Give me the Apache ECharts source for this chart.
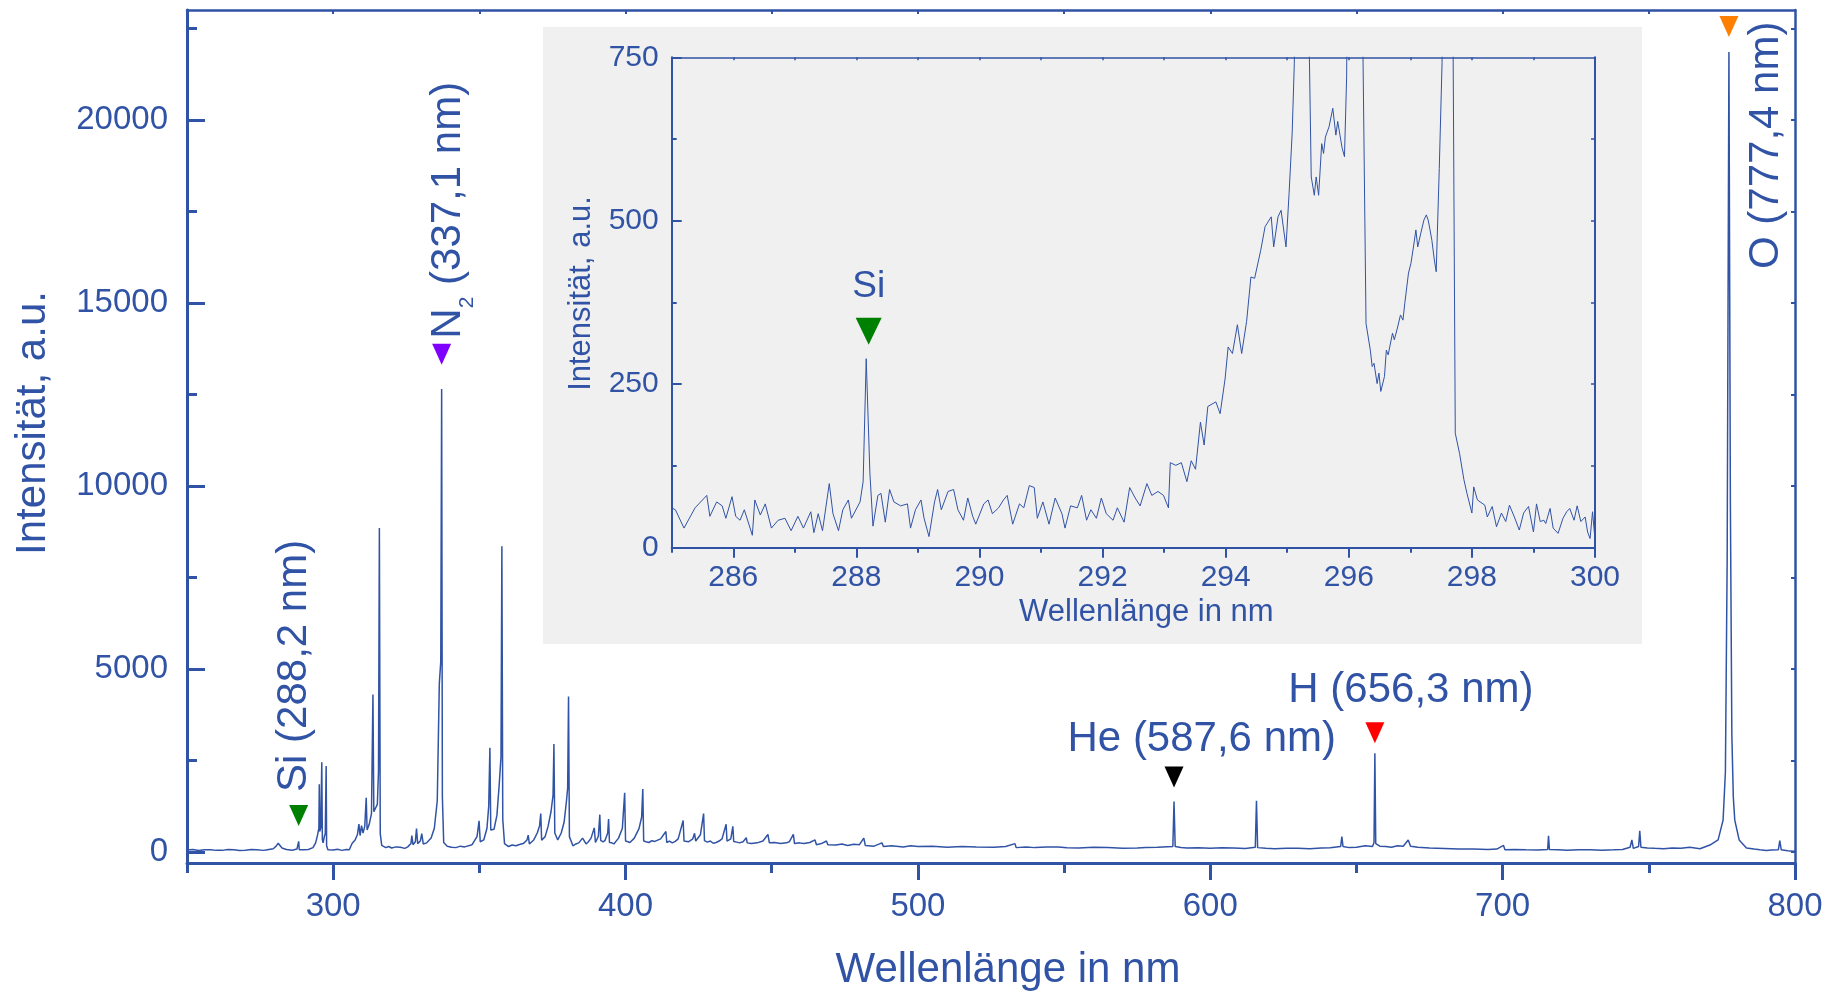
<!DOCTYPE html>
<html>
<head>
<meta charset="utf-8">
<script src="https://cdn.jsdelivr.net/npm/echarts@6/dist/echarts.min.js"></script>
<style>
  html, body { margin: 0; padding: 0; background: #ffffff; }
  #chart { width: 1835px; height: 995px; }
</style>
</head>
<body>
<div id="chart"></div>
<script>
// Emission spectrum, overview 250–800 nm: [wavelength in nm, intensity in a.u.]
const overviewSpectrum = [
  [250,55],[252,70],[254,40],[256,60],[258,65],[260,45],[262,45],[264,70],[266,60],[268,40],[270,50],[272,70],[274,65],[276,45],[277,55],[279.5,90],[280.5,160],[281.2,240],[281.8,180],[282.5,110],[284,70],[286,50],[287.6,80],[288.0,60],[288.2,290],[288.4,60],[290,60],[291.5,70],[293.1,120],[294.0,250],[294.7,480],[295.1,650],[295.25,1850],[295.4,560],[295.75,660],[295.95,700],[296.1,2450],[296.3,330],[296.55,250],[297.0,430],[297.3,500],[297.6,2350],[297.75,170],[298.2,60],[300,55],[301.5,75],[303,45],[304.5,70],[305.5,60],[306.5,240],[307.5,330],[308.3,480],[308.8,760],[309.2,450],[309.7,720],[310.2,520],[310.8,700],[311.3,1480],[311.6,600],[312.3,750],[313.1,1050],[313.6,4300],[313.9,1100],[314.5,1050],[315.1,1300],[315.5,2200],[315.8,8850],[316.1,500],[316.6,180],[318,120],[319,150],[320,110],[321.5,140],[323,130],[324.5,100],[325.5,140],[326.6,230],[326.9,450],[327.3,200],[328.1,280],[328.5,640],[328.9,230],[329.8,300],[330.3,500],[330.8,220],[332,250],[333.5,380],[334.6,650],[335.6,1400],[336.3,4600],[336.8,5200],[337.1,12650],[337.35,1500],[337.8,260],[339,160],[340.5,130],[342,120],[343.5,160],[345,140],[347.5,200],[349.2,420],[349.9,850],[350.3,280],[351.5,330],[352.6,650],[353.2,1250],[353.6,2850],[353.9,600],[355.0,620],[356.0,1000],[356.8,1850],[357.4,2600],[357.7,8350],[358.0,900],[358.6,230],[360,150],[361.2,190],[362.5,170],[364,210],[365,230],[366.3,330],[366.7,460],[367.1,220],[368.6,330],[369.8,520],[370.6,720],[371.0,1050],[371.3,320],[372.5,420],[373.5,700],[374.5,1100],[375.2,1550],[375.5,2950],[375.8,520],[376.8,330],[378.0,520],[379.0,820],[379.8,1400],[380.2,1750],[380.5,4250],[380.8,420],[382,170],[383,220],[384,250],[385.3,380],[386.5,220],[387.3,280],[388.2,380],[389.3,660],[389.7,260],[390.7,430],[391.2,1020],[391.5,320],[392.3,280],[393.0,320],[393.9,520],[394.2,900],[394.5,260],[395.3,250],[396,220],[397.6,380],[398.9,640],[399.7,1620],[400.0,300],[400.8,280],[401.5,260],[403.0,380],[404.6,640],[405.5,950],[405.9,1720],[406.2,300],[407,280],[408,260],[409,310],[410,290],[412,360],[413.8,560],[414.1,260],[415,300],[416,250],[417,290],[418,360],[419.7,860],[420.0,300],[421.5,280],[423.0,360],[423.6,510],[424.0,300],[425.6,470],[426.7,1050],[427.0,310],[428,270],[429,300],[430,240],[431,260],[432,300],[433,360],[434.4,760],[434.7,300],[436.0,360],[436.7,700],[437.0,290],[438,270],[439,250],[440.2,280],[441.3,390],[441.6,250],[443,230],[445,250],[447,300],[448.7,480],[449.2,250],[451,260],[453,230],[455,250],[456,280],[457.4,480],[457.8,230],[459.5,250],[461,230],[463,260],[464.8,330],[465.3,200],[467,230],[468.7,300],[469.2,200],[472,190],[474,220],[476,180],[478,210],[480,200],[481.5,380],[482,180],[485,160],[487.7,250],[488.2,150],[491,170],[495,140],[497.5,170],[500,150],[505,160],[510,130],[515,150],[520,140],[526,130],[530,150],[533.2,230],[533.6,120],[537,140],[540,120],[544,135],[548,140],[551,115],[555,110],[560,130],[565,120],[570,105],[575,110],[578,125],[582,130],[587.2,150],[587.6,1380],[588.0,150],[590,125],[592,110],[596,115],[600,100],[604,115],[608,110],[612,95],[615.4,130],[615.8,1400],[616.2,120],[619,100],[622,90],[626,105],[630,100],[634,90],[638,110],[641,115],[644.6,150],[645.0,420],[645.4,150],[647.5,120],[650,130],[653,170],[655.5,150],[656.0,260],[656.3,2700],[656.6,230],[658,160],[660,150],[662,130],[664,170],[666,160],[667.7,330],[668.5,160],[671,130],[675,110],[680,95],[685,80],[690,85],[695,70],[698,80],[700.3,180],[700.8,60],[704,70],[708,60],[712,55],[715.4,70],[715.7,440],[716.0,70],[719,60],[722,50],[726,65],[730,60],[734,50],[738,60],[741,70],[743.6,130],[744.2,330],[744.7,100],[746.5,150],[746.9,580],[747.3,130],[749.5,110],[752,100],[755,90],[758,110],[761,100],[764,130],[767.5,90],[770.9,190],[773.7,330],[775.4,870],[776.2,2200],[776.8,8000],[777.4,21850],[777.9,9500],[778.4,3200],[778.9,1500],[779.4,870],[780.9,330],[783.4,110],[786,80],[788,60],[790.2,40],[792,55],[794.3,60],[794.8,310],[795.3,60],[797.5,35],[799.4,20],[800,30]
];

// Same spectrum at full resolution, 285–300 nm
const detailSpectrum = [
  [285.00,61],[285.06,58],[285.20,30],[285.38,61],[285.44,67],[285.57,80],[285.62,48],[285.73,70],[285.82,64],[285.88,45],[285.98,78],[286.04,48],[286.11,42],[286.18,58],[286.31,19],[286.35,73],[286.44,50],[286.52,67],[286.62,30],[286.73,42],[286.84,45],[286.94,26],[287.05,48],[287.14,30],[287.26,55],[287.31,23],[287.38,52],[287.45,26],[287.56,98],[287.62,52],[287.71,26],[287.78,58],[287.87,73],[287.92,45],[288.06,70],[288.11,101],[288.16,289],[288.19,292],[288.22,114],[288.27,33],[288.35,80],[288.40,83],[288.47,39],[288.54,89],[288.61,70],[288.72,64],[288.83,67],[288.88,30],[288.96,58],[289.05,73],[289.10,45],[289.18,17],[289.27,70],[289.32,89],[289.38,58],[289.49,86],[289.58,89],[289.65,58],[289.74,42],[289.81,76],[289.89,48],[289.94,36],[290.07,67],[290.14,73],[290.21,52],[290.31,61],[290.39,73],[290.45,80],[290.54,36],[290.65,67],[290.72,61],[290.81,95],[290.89,92],[290.94,45],[291.03,70],[291.13,36],[291.23,76],[291.34,52],[291.39,30],[291.48,64],[291.59,61],[291.66,80],[291.74,42],[291.81,58],[291.90,45],[291.98,76],[292.06,52],[292.17,42],[292.24,61],[292.35,39],[292.44,92],[292.53,76],[292.61,64],[292.72,98],[292.80,80],[292.90,86],[292.99,80],[293.07,61],[293.10,130],[293.19,126],[293.28,130],[293.37,101],[293.44,133],[293.51,120],[293.59,192],[293.65,157],[293.71,216],[293.84,223],[293.91,205],[293.99,258],[294.04,307],[294.11,297],[294.19,341],[294.26,297],[294.34,346],[294.41,414],[294.47,412],[294.57,455],[294.64,491],[294.74,506],[294.78,460],[294.85,506],[294.90,516],[294.98,460],[295.03,542],[295.08,634],[295.115,740],[295.24,1850],[295.355,780],[295.39,567],[295.44,539],[295.47,567],[295.51,539],[295.56,618],[295.59,603],[295.62,628],[295.68,644],[295.74,672],[295.79,631],[295.82,652],[295.89,612],[295.93,598],[295.965,720],[296.10,2450],[296.23,760],[296.28,343],[296.35,302],[296.38,277],[296.41,282],[296.46,251],[296.49,267],[296.52,239],[296.58,262],[296.61,302],[296.64,295],[296.71,328],[296.74,318],[296.79,336],[296.84,356],[296.88,348],[296.91,374],[296.97,420],[297.01,435],[297.06,466],[297.09,486],[297.12,460],[297.17,481],[297.22,501],[297.26,509],[297.29,501],[297.32,486],[297.35,470],[297.39,440],[297.42,422],[297.47,580],[297.515,740],[297.60,2350],[297.695,760],[297.73,175],[297.80,144],[297.87,104],[297.92,83],[298.00,53],[298.03,93],[298.09,73],[298.21,65],[298.25,47],[298.33,63],[298.40,32],[298.48,53],[298.55,40],[298.61,65],[298.69,47],[298.77,27],[298.84,53],[298.92,63],[299.00,24],[299.05,67],[299.11,40],[299.17,42],[299.20,37],[299.27,60],[299.32,30],[299.40,22],[299.48,45],[299.54,55],[299.59,60],[299.66,42],[299.71,64],[299.77,40],[299.84,47],[299.88,24],[299.92,14],[299.96,55],[300.00,12]
];

// Identified emission lines and the height of their markers
const lineNames = ['Si', 'N2', 'He', 'H', 'O'];
const lineWavelengths = [288.2, 337.1, 587.6, 656.3, 777.4];
const markerLevels = [1000, 13600, 2050, 3260, 22550];

// Si line marked in the detail view
const detailLineName = 'Si';
const detailLineWavelength = 288.2;
const detailMarkerLevel = 331;

// Tick labels
const overviewXTicks = [300, 400, 500, 600, 700, 800];
const overviewYTicks = [0, 5000, 10000, 15000, 20000];
const detailXTicks = [286, 288, 290, 292, 294, 296, 298, 300];
const detailYTicks = [0, 250, 500, 750];

const BLUE = '#3153a5';
const FONT = '"Liberation Sans", Arial, Helvetica, sans-serif';

const markerColors = { Si: '#008000', N2: '#8000ff', He: '#000000', H: '#ff0000', O: '#ff8000' };
// label anchor relative to the marker's box, text rotation
const labelLayout = {
  Si: { position: [5, -13], rotate: 90 },
  N2: { position: [16, -5], rotate: 90 },
  He: { position: [-97, -27], rotate: 0 },
  H:  { position: [-77, -32], rotate: 0 },
  O:  { position: [47, 253], rotate: 90 }
};

function steps(from, to, step) {
  const out = [];
  for (let v = from; v <= to + 1e-9; v += step) out.push(Math.round(v * 1000) / 1000);
  return out;
}

function lineLabel(name, nm) {
  const where = ' (' + nm.toFixed(1).replace('.', ',') + ' nm)';
  const m = name.match(/^([A-Za-z]+)(\d*)$/);
  if (m[2]) return '{el|' + m[1] + '}{sub|' + m[2] + '}{el|' + where + '}';
  return '{el|' + name + where + '}';
}

const plainNumber = function (v) { return String(v); };
const textBase = { color: BLUE, fontFamily: FONT, opacity: 1 };

function plainAxis(extra) {
  return Object.assign({
    type: 'value',
    splitLine: { show: false },
    axisLine: { show: false, onZero: false },
    axisTick: { show: false },
    axisLabel: { show: false },
    silent: true
  }, extra);
}

const xAxes = [
  // overview, bottom
  plainAxis({
    gridIndex: 0, min: 250, max: 800, position: 'bottom',
    axisLine: { show: true, onZero: false, lineStyle: { color: BLUE, width: 3 } },
    axisTick: { show: true, inside: false, length: 17, customValues: overviewXTicks, lineStyle: { color: BLUE, width: 3 } },
    axisLabel: Object.assign({ show: true, customValues: overviewXTicks, formatter: plainNumber, margin: 27, fontSize: 33 }, textBase),
    name: 'Wellenlänge in nm', nameLocation: 'middle', nameGap: 86,
    nameTextStyle: Object.assign({ fontSize: 42, padding: [0, 0, 0, 34] }, textBase)
  }),
  plainAxis({
    gridIndex: 0, min: 250, max: 800, position: 'bottom',
    axisTick: { show: true, inside: false, length: 10, customValues: steps(250, 750, 100), lineStyle: { color: BLUE, width: 3 } }
  }),
  plainAxis({
    gridIndex: 0, min: 250, max: 800, position: 'top',
    axisLine: { show: true, onZero: false, lineStyle: { color: BLUE, width: 2.5 } },
    axisTick: { show: true, inside: true, length: 4, customValues: steps(300, 750, 50), lineStyle: { color: BLUE, width: 2 } }
  }),
  // detail view, bottom
  plainAxis({
    gridIndex: 1, min: 285, max: 300, position: 'bottom', z: 3,
    axisLine: { show: true, onZero: false, lineStyle: { color: BLUE, width: 2 } },
    axisTick: { show: true, inside: false, length: 10, customValues: detailXTicks, lineStyle: { color: BLUE, width: 2 } },
    axisLabel: Object.assign({ show: true, customValues: detailXTicks, formatter: plainNumber, margin: 15, fontSize: 30 }, textBase),
    name: 'Wellenlänge in nm', nameLocation: 'middle', nameGap: 49,
    nameTextStyle: Object.assign({ fontSize: 31, padding: [0, 0, 0, 26] }, textBase)
  }),
  plainAxis({
    gridIndex: 1, min: 285, max: 300, position: 'bottom', z: 3,
    axisTick: { show: true, inside: false, length: 5, customValues: steps(285, 299, 2), lineStyle: { color: BLUE, width: 2 } }
  }),
  plainAxis({
    gridIndex: 1, min: 285, max: 300, position: 'top', z: 3,
    axisLine: { show: true, onZero: false, lineStyle: { color: BLUE, width: 1.5 } },
    axisTick: { show: true, inside: true, length: 3, customValues: steps(286, 299, 1), lineStyle: { color: BLUE, width: 1.5 } }
  })
];

const yAxes = [
  // overview, left
  plainAxis({
    gridIndex: 0, min: -300, max: 23000, position: 'left',
    axisLine: { show: true, onZero: false, lineStyle: { color: BLUE, width: 3 } },
    axisTick: { show: true, inside: true, length: 18, customValues: overviewYTicks, lineStyle: { color: BLUE, width: 3 } },
    axisLabel: Object.assign({ show: true, customValues: overviewYTicks, formatter: plainNumber, margin: 19, fontSize: 33 }, textBase),
    name: 'Intensität, a.u.', nameLocation: 'middle', nameGap: 133,
    nameTextStyle: Object.assign({ fontSize: 42, padding: [0, 0, 0, 27] }, textBase)
  }),
  plainAxis({
    gridIndex: 0, min: -300, max: 23000, position: 'left',
    axisTick: { show: true, inside: true, length: 10, customValues: steps(2500, 22500, 5000), lineStyle: { color: BLUE, width: 3 } }
  }),
  plainAxis({
    gridIndex: 0, min: -300, max: 23000, position: 'right',
    axisLine: { show: true, onZero: false, lineStyle: { color: BLUE, width: 2.5 } },
    axisTick: { show: true, inside: true, length: 4, customValues: steps(0, 22500, 2500), lineStyle: { color: BLUE, width: 2 } }
  }),
  // detail view, left
  plainAxis({
    gridIndex: 1, min: 0, max: 750, position: 'left', z: 3,
    axisLine: { show: true, onZero: false, lineStyle: { color: BLUE, width: 2 } },
    axisTick: { show: true, inside: true, length: 10, customValues: detailYTicks, lineStyle: { color: BLUE, width: 2 } },
    axisLabel: Object.assign({ show: true, customValues: detailYTicks, formatter: plainNumber, margin: 13, fontSize: 30 }, textBase),
    name: 'Intensität, a.u.', nameLocation: 'middle', nameGap: 75,
    nameTextStyle: Object.assign({ fontSize: 31, padding: [0, 0, 0, 18] }, textBase)
  }),
  plainAxis({
    gridIndex: 1, min: 0, max: 750, position: 'left', z: 3,
    axisTick: { show: true, inside: true, length: 5, customValues: [125, 375, 625], lineStyle: { color: BLUE, width: 2 } }
  }),
  plainAxis({
    gridIndex: 1, min: 0, max: 750, position: 'right', z: 3,
    axisLine: { show: true, onZero: false, lineStyle: { color: BLUE, width: 2 } },
    axisTick: { show: true, inside: true, length: 4, customValues: steps(125, 625, 125), lineStyle: { color: BLUE, width: 1.5 } }
  })
];

const lineMarkers = lineNames.map(function (name, i) {
  const lay = labelLayout[name];
  return {
    value: [lineWavelengths[i], markerLevels[i]],
    itemStyle: { color: markerColors[name], opacity: 1 },
    label: {
      show: true,
      opacity: 1,
      position: lay.position,
      rotate: lay.rotate,
      align: 'left',
      verticalAlign: 'middle',
      formatter: lineLabel(name, lineWavelengths[i]),
      rich: {
        el: Object.assign({ fontSize: 42, lineHeight: 60, verticalAlign: 'middle' }, textBase),
        sub: Object.assign({ fontSize: 21, lineHeight: 13, verticalAlign: 'bottom' }, textBase)
      }
    }
  };
});

const chart = echarts.init(document.getElementById('chart'), null, { renderer: 'canvas' });
chart.setOption({
  animation: false,
  backgroundColor: '#ffffff',
  textStyle: { fontFamily: FONT },
  grid: [
    { left: 187, top: 10, width: 1608, height: 853, outerBoundsMode: 'none', containLabel: false },
    { left: 671.7, top: 57.3, width: 923.3, height: 490.4, outerBoundsMode: 'none', containLabel: false }
  ],
  graphic: [{
    type: 'rect', silent: true, z: 1,
    shape: { x: 543, y: 27, width: 1099, height: 617 },
    style: { fill: '#f0f0f0' }
  }],
  xAxis: xAxes,
  yAxis: yAxes,
  series: [
    {
      type: 'line', xAxisIndex: 0, yAxisIndex: 0, z: 2,
      data: overviewSpectrum, showSymbol: false, silent: true,
      lineStyle: { color: BLUE, width: 1.5 }
    },
    {
      type: 'line', xAxisIndex: 3, yAxisIndex: 3, z: 4, clip: true,
      data: detailSpectrum, showSymbol: false, silent: true,
      lineStyle: { color: BLUE, width: 1 }
    },
    {
      type: 'scatter', xAxisIndex: 0, yAxisIndex: 0, z: 5, silent: true,
      symbol: 'triangle', symbolRotate: 180, symbolSize: [19, 21],
      itemStyle: { opacity: 1 },
      data: lineMarkers
    },
    {
      type: 'scatter', xAxisIndex: 3, yAxisIndex: 3, z: 5, silent: true,
      symbol: 'triangle', symbolRotate: 180, symbolSize: [26, 27],
      itemStyle: { color: markerColors[detailLineName], opacity: 1 },
      label: Object.assign({ show: true, position: 'top', distance: 12, fontSize: 37, formatter: detailLineName }, textBase),
      data: [[detailLineWavelength, detailMarkerLevel]]
    }
  ]
});
</script>
</body>
</html>
